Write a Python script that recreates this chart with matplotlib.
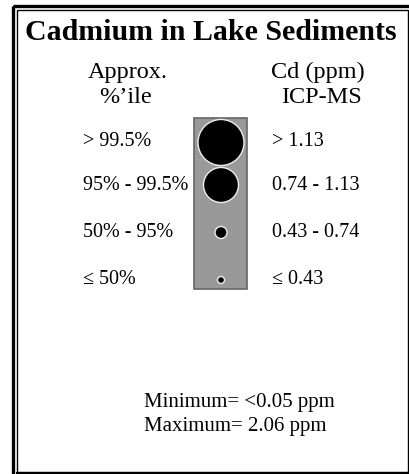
import matplotlib
matplotlib.use("Agg")
import matplotlib.pyplot as plt
from matplotlib.patches import Rectangle, Circle

title = "Cadmium in Lake Sediments"
left_header = ["Approx.", "%\u2019ile"]
right_header = ["Cd (ppm)", "ICP-MS"]
percentile_labels = ["> 99.5%", "95% - 99.5%", "50% - 95%", "\u2264 50%"]
ppm_labels = ["> 1.13", "0.74 - 1.13", "0.43 - 0.74", "\u2264 0.43"]
symbol_diameters = [46, 35, 12, 7]
stats_lines = ["Minimum= <0.05 ppm", "Maximum= 2.06 ppm"]

W, H = 409, 474
fig = plt.figure(figsize=(W / 100, H / 100), dpi=100)
ax = fig.add_axes([0, 0, 1, 1])
ax.set_xlim(0, W)
ax.set_ylim(H, 0)
ax.axis("off")

serif = ["Liberation Serif", "DejaVu Serif"]

# borders
ax.add_patch(Rectangle((12.5, 6), W + 10, H + 10, fill=False, lw=2.4, ec="black"))
ax.add_patch(Rectangle((16.5, 9.5), 407.5 - 16.5, 472 - 9.5, fill=False, lw=1.0, ec="black"))
ax.plot([16.5, 410], [472.5, 472.5], color="black", lw=2.2)

ax.text(211, 32, title, ha="center", va="center", fontsize=21.5, fontweight="bold",
        family=serif)
ax.text(128, 72, left_header[0], ha="center", va="center", fontsize=17.5, family=serif)
ax.text(126, 97, left_header[1], ha="center", va="center", fontsize=17.5, family=serif)
ax.text(318, 72, right_header[0], ha="center", va="center", fontsize=17.5, family=serif)
ax.text(322, 97, right_header[1], ha="center", va="center", fontsize=17.5, family=serif)

# symbol column
ax.add_patch(Rectangle((194, 118), 53, 171, fc="#999999", ec="#666666", lw=1.2))
row_y = [141, 186, 232, 279]
circ_y = [142.5, 185, 232.5, 280]
for i in range(len(percentile_labels)):
    ax.text(83, row_y[i], percentile_labels[i], ha="left", va="center", fontsize=14.5, family=serif)
    ax.text(272, row_y[i], ppm_labels[i], ha="left", va="center", fontsize=14.5, family=serif)
    ax.add_patch(Circle((221, circ_y[i]), symbol_diameters[i] / 2, fc="black",
                        ec="#eeeeee", lw=1.0))

ax.text(144, 403, stats_lines[0], ha="left", va="center", fontsize=15, family=serif)
ax.text(144, 427, stats_lines[1], ha="left", va="center", fontsize=15, family=serif)

fig.savefig("out.png", dpi=100)
